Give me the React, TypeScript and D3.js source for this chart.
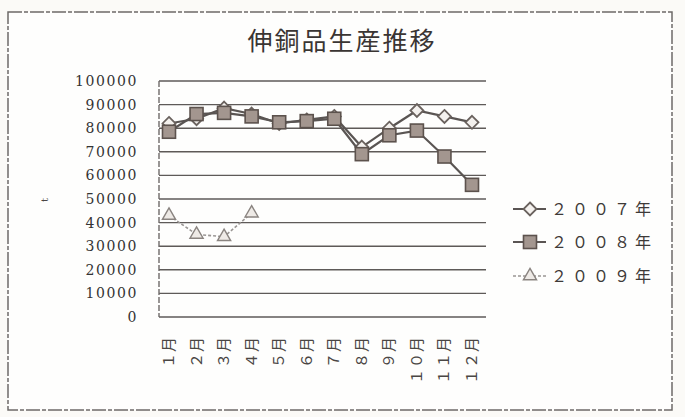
import React from "react";
import * as d3 from "d3";

const months = ["１月", "２月", "３月", "４月", "５月", "６月", "７月", "８月", "９月", "１０月", "１１月", "１２月"];
const s2007 = [82000, 84000, 88500, 86000, 82000, 83500, 85000, 72000, 80000, 87500, 85000, 82500];
const s2008 = [78500, 86000, 86500, 85000, 82500, 83000, 84000, 69000, 77000, 79000, 68000, 56000];
const s2009 = [43000, 35000, 34000, 44000];
const yTicks = [0, 10000, 20000, 30000, 40000, 50000, 60000, 70000, 80000, 90000, 100000];
const seriesNames = ["２００７年", "２００８年", "２００９年"];
const title = "伸銅品生産推移";
const yTitle = "t";

const W = 685, H = 417;
const plotL = 159, plotR = 486, plotT = 81, plotB = 317;

export default function App() {
  const x = d3.scalePoint<string>().domain(months).range([169, 472]);
  const y = d3.scaleLinear().domain([0, 100000]).range([plotB, plotT]);
  const line = d3.line<number>().x((_, i) => x(months[i]) as number).y((d) => y(d));

  const series = [
    { name: seriesNames[0], data: s2007, stroke: "#5a5553", width: 2.2, marker: "diamond", dash: "" },
    { name: seriesNames[1], data: s2008, stroke: "#5a5553", width: 2.2, marker: "square", dash: "" },
    { name: seriesNames[2], data: s2009, stroke: "#9a9694", width: 1.6, marker: "triangle", dash: "3 2" },
  ];

  const marker = (type: string, cx: number, cy: number, key: any) => {
    if (type === "diamond") {
      return (
        <path key={key} d={`M${cx},${cy - 6.5}L${cx + 6.5},${cy}L${cx},${cy + 6.5}L${cx - 6.5},${cy}Z`}
          fill="#f4f1ee" stroke="#6a625e" strokeWidth={1.8} />
      );
    }
    if (type === "square") {
      return (
        <rect key={key} x={cx - 6.5} y={cy - 6.5} width={13} height={13}
          fill="#a3968f" stroke="#5c524d" strokeWidth={1.6} />
      );
    }
    const tri = d3.symbol().type(d3.symbolTriangle).size(75)();
    return (
      <path key={key} d={tri as string} transform={`translate(${cx},${cy})`}
        fill="#eeeae6" stroke="#8a8480" strokeWidth={1.4} />
    );
  };

  const legendY = [209, 242, 276];

  return (
    <svg width={W} height={H} style={{ position: "absolute", left: 0, top: 0, background: "#fbfaf7" }}>
      <rect x={0} y={0} width={W} height={H} fill="#fbfaf7" />
      <rect x={8} y={12} width={664} height={398} fill="#fefefd" stroke="#6e6a68" strokeWidth={1.5} strokeDasharray="14 2 4 2" />
      <text x={342} y={50} textAnchor="middle" fontFamily="Noto Sans CJK JP" fontSize={25} letterSpacing={2} fill="#3a3533">
        {title}
      </text>
      {yTicks.map((t) => (
        <line key={t} x1={plotL} x2={plotR} y1={y(t)} y2={y(t)} stroke="#5e5a58" strokeWidth={1.4} />
      ))}
      <line x1={plotL} x2={plotL} y1={plotT} y2={plotB} stroke="#6e6a68" strokeWidth={1.4} strokeDasharray="6 2" />
      {yTicks.map((t) => (
        <text key={"l" + t} x={138} y={y(t) + 5} textAnchor="end" fontFamily="DejaVu Serif" fontSize={14}
          letterSpacing={1.6} fill="#333">{t}</text>
      ))}
      <text transform={`translate(48,200) rotate(-90)`} textAnchor="middle" fontFamily="DejaVu Serif" fontSize={10} fill="#4a4644">
        {yTitle}
      </text>
      {months.map((m) => (
        <text key={m} transform={`translate(${(x(m) as number) + 5},336) rotate(-90)`} textAnchor="end"
          fontFamily="Noto Sans CJK JP" fontSize={15} letterSpacing={1} fill="#4a4644">{m}</text>
      ))}
      {series.map((s) => (
        <g key={s.name}>
          <path d={line(s.data) as string} fill="none" stroke={s.stroke} strokeWidth={s.width} strokeDasharray={s.dash} />
          {s.data.map((v, i) => marker(s.marker, x(months[i]) as number, y(v), i))}
        </g>
      ))}
      {series.map((s, si) => (
        <g key={"lg" + s.name}>
          <line x1={513} x2={546} y1={legendY[si]} y2={legendY[si]} stroke={s.stroke} strokeWidth={s.width} strokeDasharray={s.dash} />
          {marker(s.marker, 530, legendY[si], "m")}
          <text x={551} y={legendY[si] + 6} fontFamily="Noto Sans CJK JP" fontSize={16} letterSpacing={5} fill="#3e3a38">{s.name}</text>
        </g>
      ))}
    </svg>
  );
}
